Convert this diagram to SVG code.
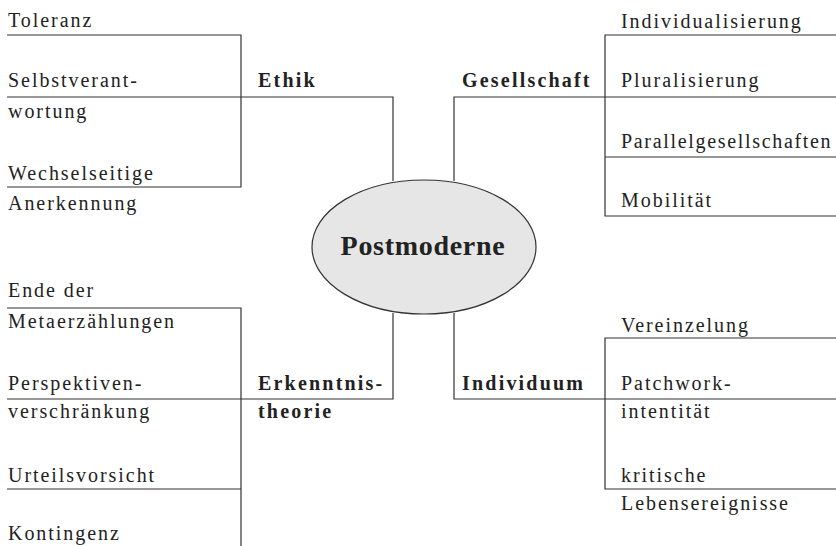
<svg xmlns="http://www.w3.org/2000/svg" width="836" height="546" viewBox="0 0 836 546">
<style>
.t{font-family:'Liberation Serif',Tinos,'Times New Roman',Times,'DejaVu Serif',serif;font-size:20px;letter-spacing:1.95px;fill:#222}
.b{font-family:'Liberation Serif',Tinos,'Times New Roman',Times,'DejaVu Serif',serif;font-size:20px;font-weight:bold;letter-spacing:2.2px;fill:#222}
.p{font-family:'Liberation Serif',Tinos,'Times New Roman',Times,'DejaVu Serif',serif;font-size:28px;font-weight:bold;letter-spacing:0.7px;fill:#222}
.c{fill:none;stroke:#333;stroke-width:1.2}
</style>
<rect width="836" height="546" fill="#fff"/>
<g id="connectors">
<path class="c" d="M7,35H241V187H7"/>
<path class="c" d="M7,97H393V181"/>
<path class="c" d="M836,35H605V216H836"/>
<path class="c" d="M836,97H454V181"/>
<path class="c" d="M836,157H605"/>
<path class="c" d="M7,308H241V546"/>
<path class="c" d="M7,489H241"/>
<path class="c" d="M7,399H393V313"/>
<path class="c" d="M836,338H605V489H836"/>
<path class="c" d="M836,399H454V313"/>
</g>
<g id="center">
<ellipse cx="424" cy="247" rx="112" ry="67" fill="#e6e6e6" stroke="#333" stroke-width="1.2"/>
<text class="p" x="423" y="255" text-anchor="middle">Postmoderne</text>
</g>
<g id="ethik">
<text class="b" x="258" y="87">Ethik</text>
<text class="t" x="8" y="27">Toleranz</text>
<text class="t" x="8" y="87">Selbstverant-</text>
<text class="t" x="8" y="118">wortung</text>
<text class="t" x="8" y="180">Wechselseitige</text>
<text class="t" x="8" y="210">Anerkennung</text>
</g>
<g id="gesellschaft">
<text class="b" x="462" y="87">Gesellschaft</text>
<text class="t" x="621" y="28">Individualisierung</text>
<text class="t" x="621" y="87">Pluralisierung</text>
<text class="t" x="621" y="148" style="letter-spacing:1.4px" textLength="211" lengthAdjust="spacing">Parallelgesellschaften</text>
<text class="t" x="621" y="207">Mobilität</text>
</g>
<g id="erkenntnistheorie">
<text class="b" x="258" y="390">Erkenntnis-</text>
<text class="b" x="258" y="418">theorie</text>
<text class="t" x="8" y="297">Ende der</text>
<text class="t" x="8" y="328">Metaerzählungen</text>
<text class="t" x="8" y="390">Perspektiven-</text>
<text class="t" x="8" y="418">verschränkung</text>
<text class="t" x="8" y="482">Urteilsvorsicht</text>
<text class="t" x="8" y="540">Kontingenz</text>
</g>
<g id="individuum">
<text class="b" x="462" y="390">Individuum</text>
<text class="t" x="621" y="332">Vereinzelung</text>
<text class="t" x="621" y="390">Patchwork-</text>
<text class="t" x="621" y="418">intentität</text>
<text class="t" x="621" y="482">kritische</text>
<text class="t" x="621" y="510">Lebensereignisse</text>
</g>
</svg>
